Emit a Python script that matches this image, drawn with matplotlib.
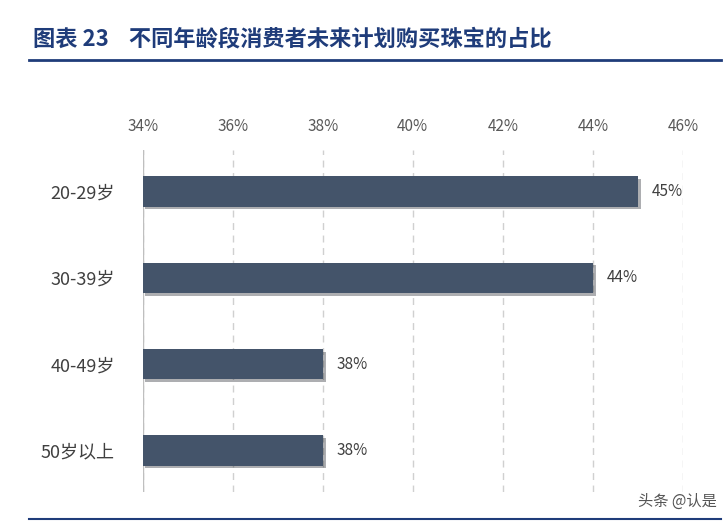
import matplotlib
matplotlib.use("Agg")
import matplotlib.pyplot as plt
import matplotlib.patheffects as pe

plt.rcParams["font.family"] = ["Noto Sans CJK SC"]

categories = ["20-29岁", "30-39岁", "40-49岁", "50岁以上"]
values = [45, 44, 38, 38]
ticks = [34, 36, 38, 40, 42, 44, 46]

fig = plt.figure(figsize=(7.28, 5.21), dpi=100)
ax = fig.add_axes([0.196, 0.056, 0.742, 0.656])

y = range(len(categories))
bars = ax.barh(y, [v - 34 for v in values], left=34, height=0.35,
               color="#44546a", zorder=3)
for b in bars:
    b.set_path_effects([pe.SimplePatchShadow(offset=(2, -2), alpha=0.35),
                        pe.Normal()])
for i, v in enumerate(values):
    ax.text(v + 0.3, i, f"{v}%", va="center", ha="left",
            fontsize=11, color="#404040")

ax.set_xlim(34, 46)
ax.set_ylim(3.48, -0.48)
ax.set_xticks(ticks)
ax.set_xticklabels([f"{t}%" for t in ticks], fontsize=11, color="#595959")
ax.xaxis.tick_top()
ax.tick_params(axis="x", length=0, pad=11)
ax.set_yticks(list(y))
ax.set_yticklabels(categories, fontsize=13, color="#404040")
ax.tick_params(axis="y", length=0, pad=20)
ax.grid(axis="x", linestyle=(0, (5, 4)), color="#d0d0d0", linewidth=1, zorder=0)
for s in ax.spines.values():
    s.set_visible(False)
ax.axvline(34, color="#bfbfbf", linewidth=1, zorder=2)

fig.text(0.045, 0.925, "图表 23    不同年龄段消费者未来计划购买珠宝的占比",
         fontsize=16, fontweight="bold", color="#1f3c7a", va="center")
fig.add_artist(plt.Line2D([0.04, 0.99], [0.885, 0.885], color="#1f3c7a", linewidth=2))
fig.add_artist(plt.Line2D([0.04, 0.99], [0.004, 0.004], color="#1f3c7a", linewidth=1.5))
fig.text(0.985, 0.03, "头条 @认是", fontsize=11, color="#555555", ha="right")

fig.savefig("out.png", dpi=100)
